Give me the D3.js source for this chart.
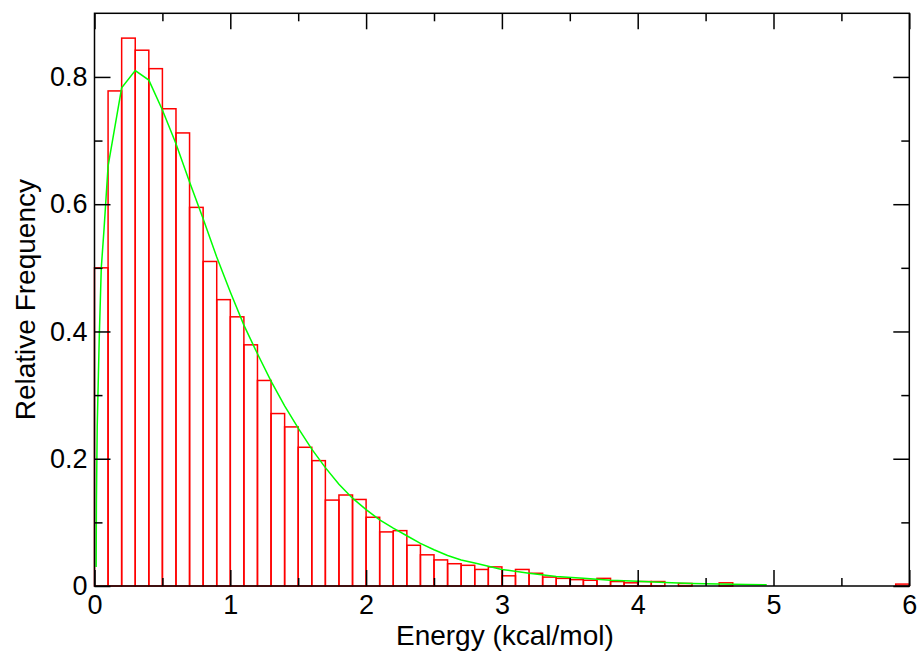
<!DOCTYPE html>
<html>
<head><meta charset="utf-8"></head>
<style>
  html, body { margin: 0; background: #fff; }
  svg { display: block; }
  text { font-family: "Liberation Sans", Arial, Helvetica, sans-serif; fill: #000; }
</style>
<body>
<svg width="924" height="652"></svg>

<script src="https://cdnjs.cloudflare.com/ajax/libs/d3/7.8.5/d3.min.js"></script>
<script>
  // histogram bins: left edge of each 0.1-wide bin and its relative frequency
  const binStart = d3.range(0, 60).map(i => +(i * 0.1).toFixed(1));
  const binValue = [
    0.50, 0.778, 0.861, 0.842, 0.813, 0.750, 0.712, 0.595, 0.510, 0.450,
    0.423, 0.379, 0.323, 0.271, 0.250, 0.218, 0.197, 0.135, 0.143, 0.136,
    0.108, 0.085, 0.087, 0.064, 0.049, 0.041, 0.035, 0.0325, 0.026, 0.030,
    0.016, 0.026, 0.020, 0.014, 0.012, 0.010, 0.009, 0.012, 0.007, 0.005,
    0.007, 0.007, 0, 0.004, 0, 0, 0.005, 0, 0, 0,
    0, 0, 0, 0, 0, 0, 0, 0, 0, 0.003
  ];

  // fitted curve (green)
  const curveX = [0.012, 0.014, 0.02, 0.035, 0.05, 0.07, 0.1, 0.2, 0.3, 0.4,
    0.5, 0.6, 0.7, 0.8, 0.9, 1.0, 1.1, 1.2, 1.3, 1.4,
    1.5, 1.6, 1.7, 1.8, 1.9, 2.0, 2.1, 2.2, 2.3, 2.4,
    2.5, 2.6, 2.7, 2.8, 2.9, 3.0, 3.2, 3.4, 3.6, 3.8,
    4.0, 4.2, 4.4, 4.6, 4.8, 4.95];
  const curveY = [0.03, 0.13, 0.25, 0.39, 0.5, 0.56, 0.66, 0.783, 0.81, 0.795,
    0.748, 0.695, 0.635, 0.577, 0.517, 0.462, 0.41, 0.365, 0.322, 0.283,
    0.248, 0.215, 0.186, 0.16, 0.138, 0.12, 0.104, 0.091, 0.079, 0.067,
    0.057, 0.048, 0.041, 0.036, 0.031, 0.026, 0.02, 0.015, 0.012, 0.009,
    0.0075, 0.0055, 0.004, 0.003, 0.0025, 0.002];

  const xMajor = [0, 1, 2, 3, 4, 5, 6];
  const xMinor = [0.5, 1.5, 2.5, 3.5, 4.5, 5.5];
  const yMajor = [0, 0.2, 0.4, 0.6, 0.8];
  const yMinor = [0.1, 0.3, 0.5, 0.7];

  const margin = {left: 94.5, right: 924 - 909.3, top: 13.3, bottom: 652 - 586};
  const width = 924 - margin.left - margin.right;
  const height = 652 - margin.top - margin.bottom;

  const svg = d3.select('svg');
  const g = svg.append('g').attr('transform', `translate(${margin.left},${margin.top})`);

  const x = d3.scaleLinear().domain([0, 6]).range([0, width]);
  const y = d3.scaleLinear().domain([0, 0.9]).range([height, 0]);

  // bars
  g.append('g').selectAll('rect')
    .data(binStart.map((s, i) => ({s, v: binValue[i]})).filter(d => d.v > 0))
    .join('rect')
      .attr('x', d => x(d.s))
      .attr('width', d => x(d.s + 0.1) - x(d.s))
      .attr('y', d => y(d.v))
      .attr('height', d => y(0) - y(d.v))
      .attr('fill', 'none')
      .attr('stroke', '#ff0000')
      .attr('stroke-width', 1.5);

  // curve
  const line = d3.line().x((d, i) => x(curveX[i])).y(d => y(d));
  g.append('path')
    .datum(curveY)
    .attr('d', line)
    .attr('fill', 'none')
    .attr('stroke', '#00ff00')
    .attr('stroke-width', 1.5);

  const yFmt = d => d === 0 ? '0' : d3.format('.1f')(d);

  function styleAxis(sel) {
    sel.select('.domain').remove();
    sel.selectAll('.tick line').attr('stroke', '#000').attr('stroke-width', 1.5);
    sel.selectAll('.tick text').style('font-size', '27px').attr('fill', '#000');
  }

  // major ticks with labels
  g.append('g').attr('transform', `translate(0,${height})`)
    .call(d3.axisBottom(x).tickValues(xMajor).tickFormat(d3.format('d')).tickSize(-16).tickPadding(9))
    .call(styleAxis);
  g.append('g')
    .call(d3.axisLeft(y).tickValues(yMajor).tickFormat(yFmt).tickSize(-16).tickPadding(7))
    .call(styleAxis);
  // minor ticks, and the unlabelled top/right sides
  g.append('g').attr('transform', `translate(0,${height})`)
    .call(d3.axisBottom(x).tickValues(xMinor).tickFormat('').tickSize(-8)).call(styleAxis);
  g.append('g')
    .call(d3.axisLeft(y).tickValues(yMinor).tickFormat('').tickSize(-8)).call(styleAxis);
  g.append('g')
    .call(d3.axisTop(x).tickValues(xMajor).tickFormat('').tickSize(-16)).call(styleAxis);
  g.append('g')
    .call(d3.axisTop(x).tickValues(xMinor).tickFormat('').tickSize(-8)).call(styleAxis);
  g.append('g').attr('transform', `translate(${width},0)`)
    .call(d3.axisRight(y).tickValues(yMajor).tickFormat('').tickSize(-16)).call(styleAxis);
  g.append('g').attr('transform', `translate(${width},0)`)
    .call(d3.axisRight(y).tickValues(yMinor).tickFormat('').tickSize(-8)).call(styleAxis);

  // frame
  g.append('rect')
    .attr('width', width).attr('height', height)
    .attr('fill', 'none').attr('stroke', '#000').attr('stroke-width', 1.5);

  // axis titles
  svg.append('text')
    .attr('x', margin.left + width / 2 + 3).attr('y', 645)
    .attr('text-anchor', 'middle')
    .style('font-size', '28px')
    .text('Energy (kcal/mol)');
  svg.append('text')
    .attr('transform', `translate(35,${margin.top + height / 2}) rotate(-90)`)
    .attr('text-anchor', 'middle')
    .style('font-size', '28px')
    .text('Relative Frequency');
</script>
</body>
</html>
